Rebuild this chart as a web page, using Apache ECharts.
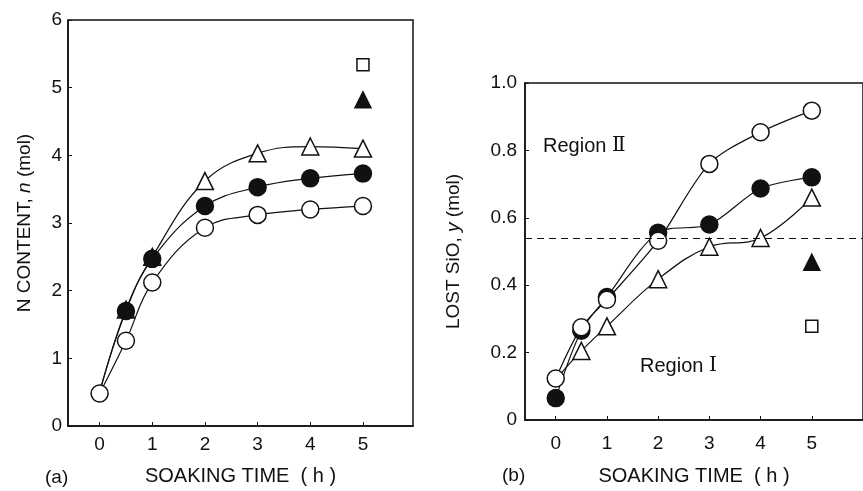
<!DOCTYPE html>
<html>
<head>
<meta charset="utf-8">
<script src="https://cdn.jsdelivr.net/npm/echarts@6/dist/echarts.min.js"></script>
<style>
  html, body {margin: 0; padding: 0; background: #fff;}
  #chart {width: 863px; height: 491px;}
</style>
</head>
<body>
<div id="chart"></div>
<script>
// soaking time (h)
const times = [0, 0.5, 1, 2, 3, 4, 5];
const xTicks = [0, 1, 2, 3, 4, 5];

// (a) N content n (mol)
const nOpenTri = [0.5, 1.72, 2.5, 3.62, 4.03, 4.13, 4.1];
const nFilledCircle = [0.5, 1.7, 2.47, 3.25, 3.53, 3.66, 3.73];
const nOpenCircle = [0.48, 1.26, 2.12, 2.93, 3.12, 3.2, 3.25];
const nFilledTri = [[5, 4.82]];
const nSquare = [[5, 5.34]];

// (b) lost SiO y (mol)
const yOpenCircle = [0.123, 0.275, 0.357, 0.532, 0.76, 0.854, 0.918];
const yFilledCircle = [0.065, 0.265, 0.365, 0.556, 0.58, 0.687, 0.72];
const yOpenTri = [0.12, 0.205, 0.278, 0.418, 0.514, 0.54, 0.66];
const yFilledTri = [[5, 0.468]];
const ySquare = [[5, 0.278]];
const regionBoundary = 0.535;

// first triangle point sits under the circles, no marker drawn there
const pts = (ys, hideFirst) => times.map((t, i) =>
  (hideFirst && i === 0) ? {value: [t, ys[i]], symbol: 'none'} : [t, ys[i]]);

const FONT = 'Liberation Sans';
const INK = '#111';

const lineSeries = (idx, data, symbol, filled, smooth, z) => ({
  type: 'line',
  xAxisIndex: idx,
  yAxisIndex: idx,
  data: data,
  smooth: smooth,
  symbol: symbol,
  symbolSize: 17,
  showSymbol: true,
  z: z,
  lineStyle: {color: INK, width: 1.2},
  itemStyle: {color: filled ? INK : '#fff', borderColor: INK, borderWidth: 1.5, opacity: 1},
  emphasis: {disabled: true},
  animation: false
});

const dotSeries = (idx, data, symbol, filled, size) => ({
  type: 'scatter',
  xAxisIndex: idx,
  yAxisIndex: idx,
  data: data,
  symbol: symbol,
  symbolSize: size,
  itemStyle: {color: filled ? INK : '#fff', borderColor: INK, borderWidth: 1.5, opacity: 1},
  emphasis: {disabled: true},
  animation: false
});

const xAxisBase = (gridIndex, max, margin, gap) => ({
  type: 'value',
  gridIndex: gridIndex,
  min: -0.6,
  max: max,
  name: 'SOAKING TIME  ( h )',
  nameLocation: 'middle',
  nameGap: gap,
  nameTextStyle: {fontFamily: FONT, fontSize: 20, color: INK},
  splitLine: {show: false},
  axisLine: {onZero: false, lineStyle: {color: INK, width: 1.5}},
  axisTick: {inside: true, length: 4, customValues: xTicks, lineStyle: {color: INK}},
  axisLabel: {customValues: xTicks, margin: margin, fontFamily: FONT, fontSize: 19, color: INK}
});

const yName = {
  fontFamily: FONT, fontSize: 19, color: INK,
  rich: {i: {fontFamily: FONT, fontSize: 19, fontStyle: 'italic', color: INK}}
};

const chart = echarts.init(document.getElementById('chart'), null, {renderer: 'canvas'});
chart.setOption({
  backgroundColor: '#fff',
  animation: false,
  grid: [
    {left: 68, top: 20, width: 345, height: 412, show: true, borderColor: INK, borderWidth: 1.5},
    {left: 525, top: 83, width: 342, height: 342, show: true, borderColor: INK, borderWidth: 1.5}
  ],
  xAxis: [
    xAxisBase(0, 5.95, 9, 40),
    xAxisBase(1, 6, 14, 46)
  ],
  yAxis: [
    {
      type: 'value', gridIndex: 0, min: 0, max: 6, interval: 1,
      name: 'N CONTENT, {i|n} (mol)',
      nameLocation: 'middle', nameGap: 34,
      nameTextStyle: yName,
      splitLine: {show: false},
      axisLine: {show: true, onZero: false, lineStyle: {color: INK, width: 1.5}},
      axisTick: {show: true, inside: true, length: 4, lineStyle: {color: INK}},
      axisLabel: {margin: 6, fontFamily: FONT, fontSize: 19, color: INK}
    },
    {
      type: 'value', gridIndex: 1, min: 0, max: 1, interval: 0.2,
      name: 'LOST SiO, {i|y} (mol)',
      nameLocation: 'middle', nameGap: 62,
      nameTextStyle: yName,
      splitLine: {show: false},
      axisLine: {show: true, onZero: false, lineStyle: {color: INK, width: 1.5}},
      axisTick: {show: true, inside: true, length: 4, lineStyle: {color: INK}},
      axisLabel: {
        margin: 8, fontFamily: FONT, fontSize: 19, color: INK,
        formatter: (v) => (v === 0 ? '0' : v.toFixed(1))
      }
    }
  ],
  graphic: [
    {type: 'text', left: 45, top: 468, style: {text: '(a)', font: '19px "Liberation Sans"', fill: INK}},
    {type: 'text', left: 502, top: 466, style: {text: '(b)', font: '19px "Liberation Sans"', fill: INK}},
    {type: 'text', left: 543, top: 136, style: {
      text: 'Region {r|Ⅱ}', font: '20px "Liberation Sans"', fill: INK,
      rich: {r: {fontFamily: 'DejaVu Serif', fontSize: 20, fill: INK}}
    }},
    {type: 'text', left: 640, top: 356, style: {
      text: 'Region {r|Ⅰ}', font: '20px "Liberation Sans"', fill: INK,
      rich: {r: {fontFamily: 'DejaVu Serif', fontSize: 20, fill: INK}}
    }}
  ],
  series: [
    // (a)
    lineSeries(0, pts(nOpenTri, true), 'triangle', false, 0.4, 2),
    lineSeries(0, pts(nFilledCircle, true), 'circle', true, 0.4, 3),
    lineSeries(0, pts(nOpenCircle), 'circle', false, 0.4, 4),
    dotSeries(0, nFilledTri, 'triangle', true, 16),
    dotSeries(0, nSquare, 'rect', false, 12),
    // (b)
    Object.assign(lineSeries(1, pts(yOpenTri, true), 'triangle', false, 0.4, 2), {
      markLine: {
        silent: true,
        symbol: 'none',
        label: {show: false},
        lineStyle: {color: INK, type: [7, 5], width: 1.2},
        data: [{yAxis: regionBoundary}]
      }
    }),
    lineSeries(1, pts(yFilledCircle), 'circle', true, 0.3, 3),
    lineSeries(1, pts(yOpenCircle), 'circle', false, 0.3, 4),
    dotSeries(1, yFilledTri, 'triangle', true, 16),
    dotSeries(1, ySquare, 'rect', false, 12)
  ]
});
</script>
</body>
</html>
